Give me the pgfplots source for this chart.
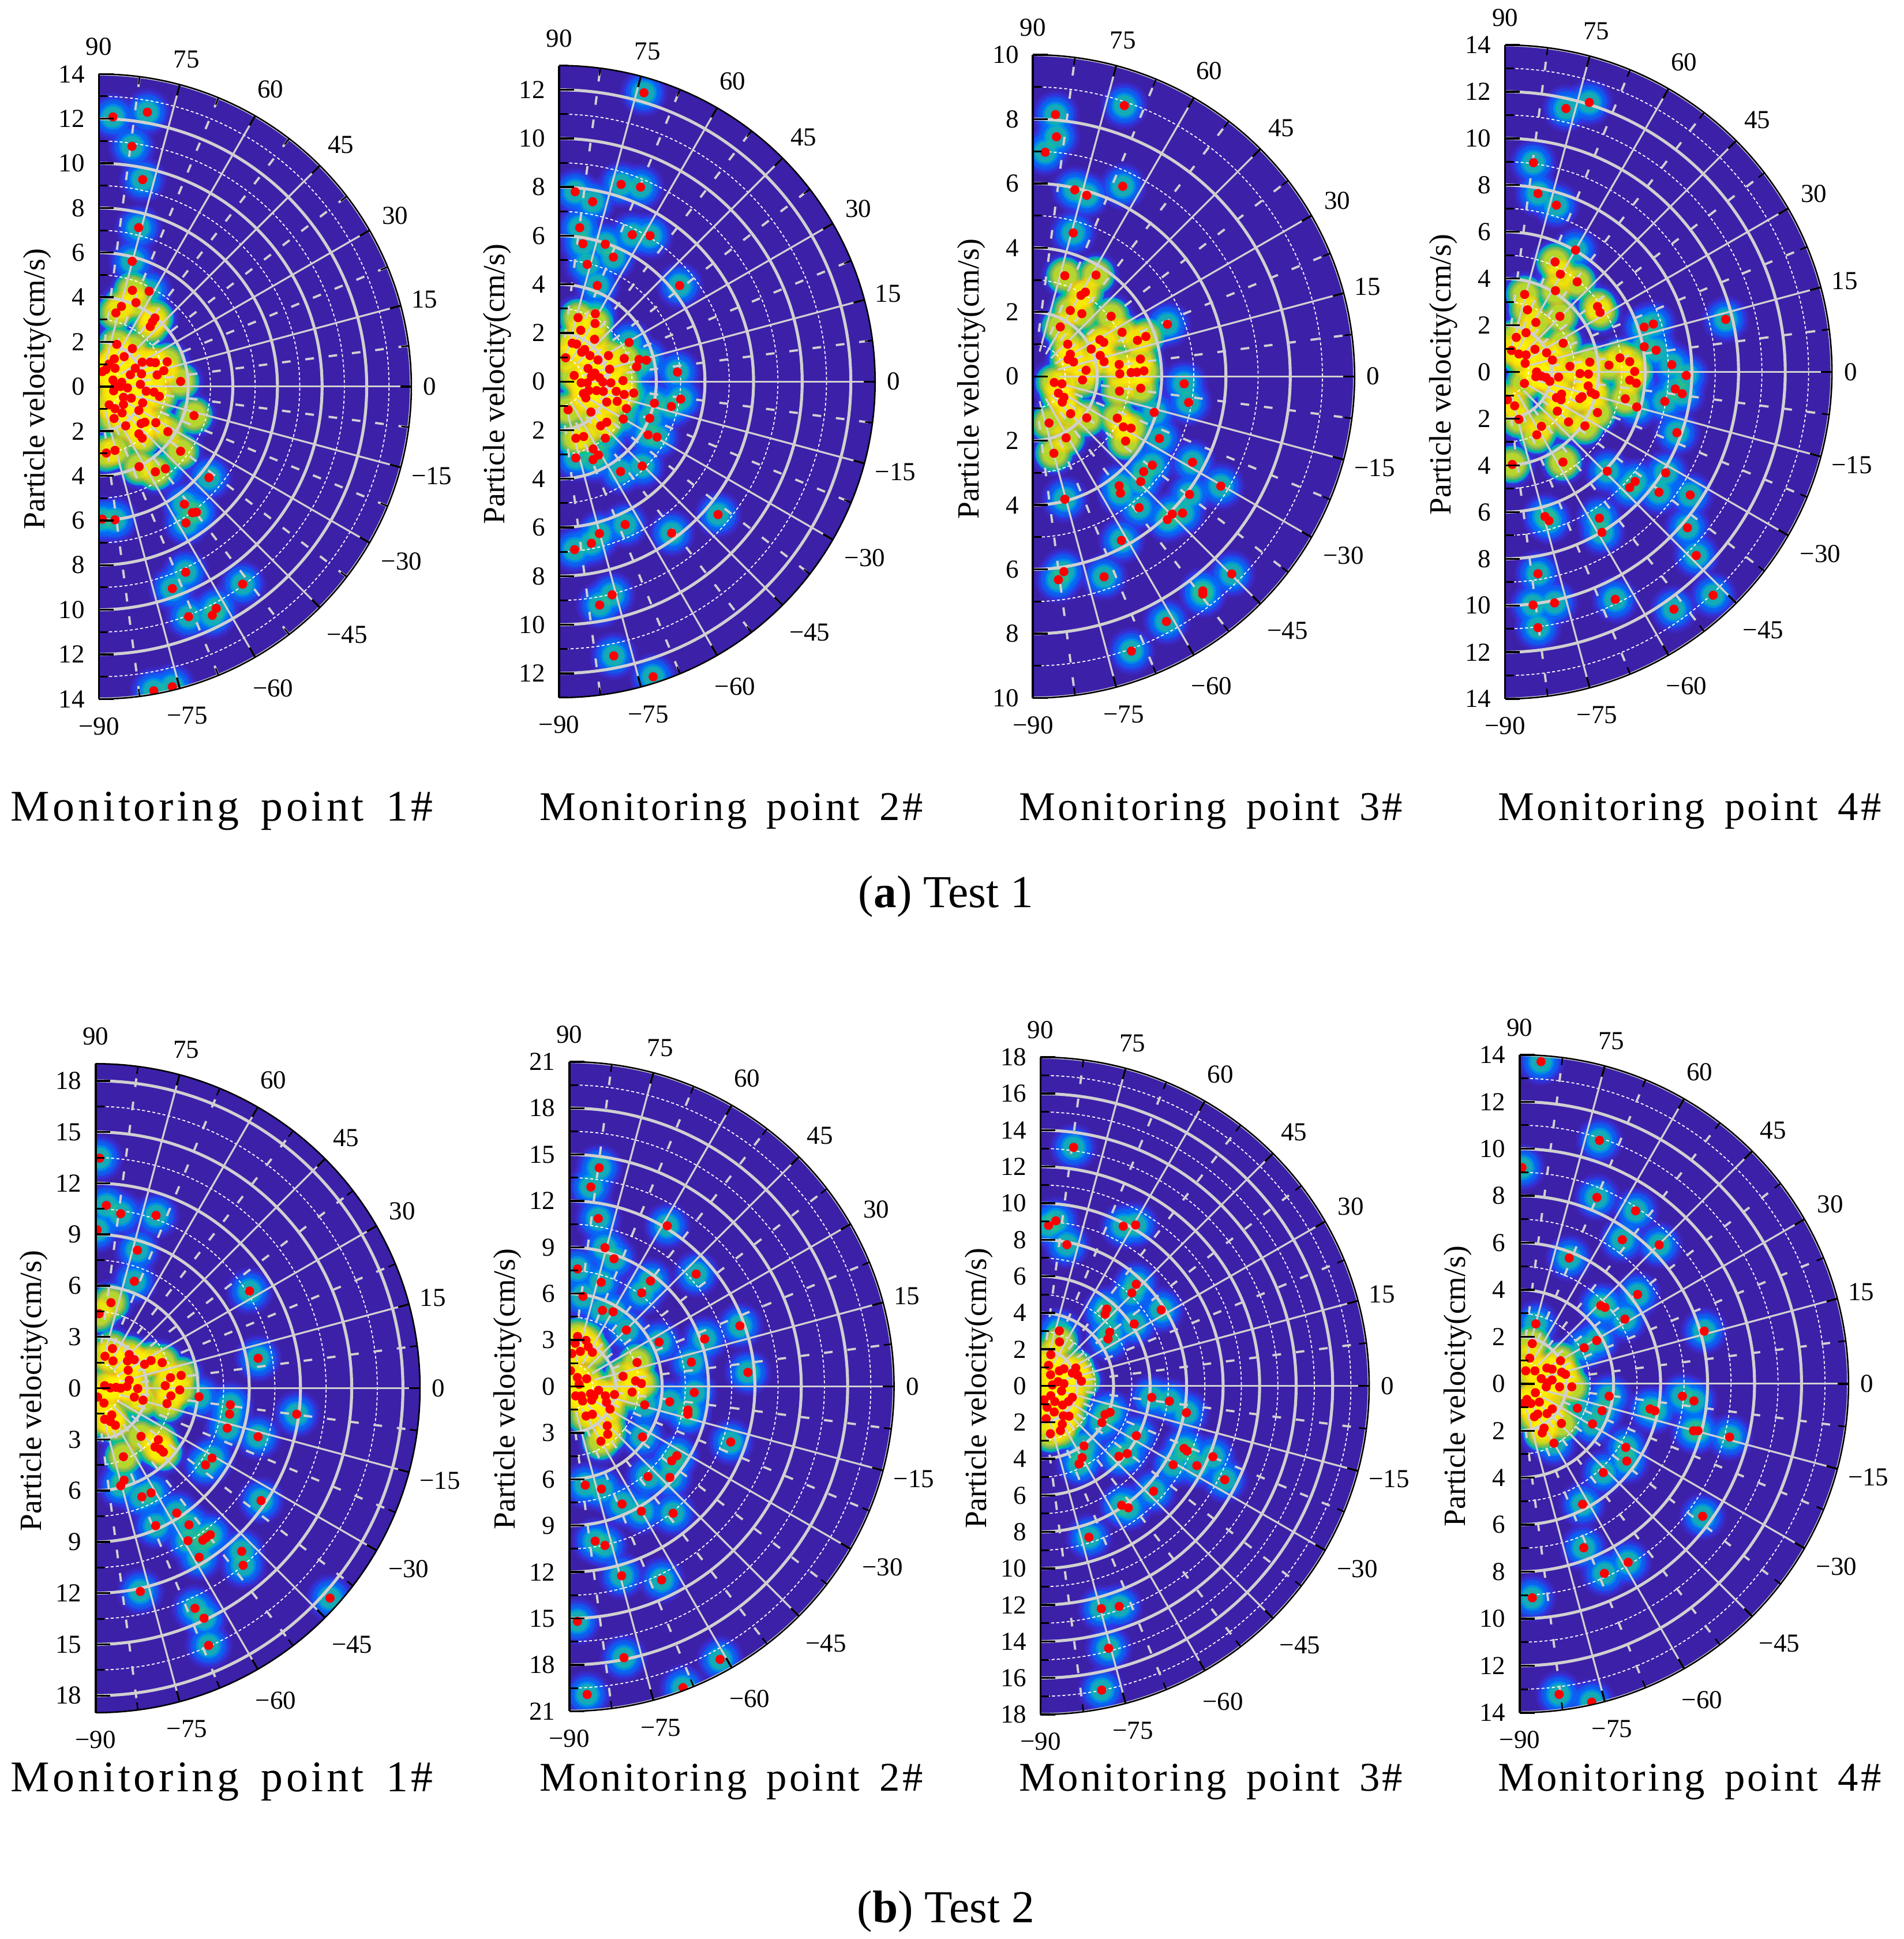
\documentclass[border=0pt]{standalone}
\usepackage{fontspec}
\setmainfont{Liberation Serif}
\newfontfamily\wideA[LetterSpace=7.3]{Liberation Serif}
\newfontfamily\wideB[LetterSpace=5.8]{Liberation Serif}
\usepackage{pgfplots}
\usepackage{pgfplotstable}
\pgfplotsset{compat=1.18}
\definecolor{bgc}{RGB}{60,32,168}
\definecolor{gridc}{RGB}{208,208,208}
\definecolor{h1}{RGB}{58,50,222}
\definecolor{h2}{RGB}{30,70,245}
\definecolor{h3}{RGB}{0,115,245}
\definecolor{h3b}{RGB}{0,160,235}
\definecolor{h4}{RGB}{0,190,200}
\definecolor{h5}{RGB}{10,205,110}
\definecolor{h6}{RGB}{255,170,30}
\definecolor{h7}{RGB}{255,225,0}
\definecolor{h8}{RGB}{255,255,0}
\pgfplotsset{
  halo/.style n args={3}{only marks,mark=*,mark size=#1pt,mark options={draw opacity=0,fill=#2,fill opacity=#3},forget plot},
}
\pgfplotstableread{
x y
0.63 12.08
2.17 12.29
1.48 10.76
1.96 9.27
1.78 7.12
1.49 5.61
1.5 4.31
2.25 4.27
1.66 3.76
1.01 3.59
0.76 3.3
2.51 3.07
2.4 2.9
2.3 2.69
0.8 1.89
1.5 1.7
0.69 1.24
1.13 1.34
0.46 1.01
0.72 0.82
0.15 0.67
0.31 0.76
1.94 1.09
1.63 0.82
2.3 1.09
2.53 1.07
3.06 1.11
2.91 0.71
2.61 0.52
1.91 0.57
1.41 0.53
3.66 0.23
0.63 0.29
1.02 0.19
1.86 0.1
0.72 0
0.66 -0.19
1.28 -0.06
0.97 0
2.12 -0.21
2.47 -0.25
2.71 -0.44
1.1 -0.48
1.45 -0.52
1.96 -0.73
1.1 -0.8
0.46 -0.82
0.72 -0.99
1.04 -1.18
1.79 -1.07
0.68 -1.43
1.2 -1.76
1.89 -1.66
2.06 -1.6
2.55 -1.62
3.09 -2.02
1.79 -2.12
1.94 -2.31
4.26 -1.3
0.33 -2.98
0.72 -2.86
3.66 -2.9
1.8 -3.59
2.53 -3.82
2.98 -3.68
4.93 -4.08
3.83 -5.27
4.19 -5.65
4.37 -5.63
3.9 -6.11
0.15 -5.94
0.72 -5.97
3.89 -8.32
3.29 -9.05
6.44 -8.85
5.26 -9.94
5.08 -10.25
4.02 -10.31
2.46 -13.63
3.29 -13.45
}\ta
\pgfplotstableread{
x y
3.49 11.88
2.55 8.11
3.35 8.0
0.66 7.81
1.38 7.4
0.85 6.33
0.98 5.67
1.9 5.65
3.01 6.04
3.74 6.0
2.23 5.12
1.16 4.82
1.57 3.95
4.96 3.95
0.78 2.63
1.49 2.79
1.48 2.39
0.89 2.11
1.46 1.74
0.54 1.58
0.72 1.54
2.88 1.61
1.05 1.32
0.93 1.21
1.27 1.07
0.27 0.98
1.6 0.89
2.03 1.07
2.68 0.95
3.29 0.91
3.59 0.88
3.19 0.61
1.19 0.54
2.08 0.51
4.87 0.39
0.62 0.25
1.47 0.35
1.33 0.21
1.66 0.16
0.91 -0.05
1.16 -0.05
1.8 -0.02
2.13 -0.05
2.63 0.04
1.22 -0.37
1.54 -0.37
1.82 -0.4
1.0 -0.49
2.35 -0.4
2.68 -0.53
3.07 -0.47
1.1 -0.67
1.96 -0.84
2.39 -0.81
2.77 -1.11
3.92 -0.89
5.0 -0.72
4.62 -1.02
0.37 -1.16
1.31 -1.25
2.64 -1.54
3.73 -1.51
1.96 -1.67
1.71 -1.82
3.66 -2.19
4.03 -2.28
0.69 -2.33
1.01 -2.26
1.9 -2.33
1.4 -2.77
1.62 -3.02
1.4 -3.21
0.69 -3.14
2.53 -3.7
3.42 -3.47
6.54 -5.47
2.72 -5.88
4.63 -6.23
1.66 -6.25
1.33 -6.65
0.64 -6.91
2.18 -8.77
1.67 -9.19
2.25 -11.28
3.87 -12.14
}\tb
\pgfplotstableread{
x y
2.84 8.42
0.7 8.14
0.73 7.45
0.38 6.97
1.3 5.8
1.67 5.63
2.79 5.91
1.25 4.46
0.99 3.13
1.96 3.15
1.63 2.62
1.49 2.52
1.16 2.05
1.52 1.95
2.43 1.87
4.18 1.62
0.85 1.54
2.77 1.37
3.51 1.24
3.25 1.12
2.08 1.14
2.2 1.06
1.08 1.0
1.81 0.85
1.16 0.69
2.09 0.65
1.09 0.53
1.26 0.45
2.21 0.46
3.34 0.54
2.68 0.37
1.65 0.19
2.7 0.08
3.05 0.12
3.23 0.13
3.45 0.17
1.54 -0.11
0.66 -0.19
0.9 -0.23
4.7 -0.23
2.69 -0.46
3.35 -0.37
0.79 -0.52
0.96 -0.65
0.91 -0.8
4.84 -0.81
3.77 -1.12
1.17 -1.16
1.67 -1.29
2.62 -1.3
0.5 -1.45
2.81 -1.57
3.05 -1.61
2.88 -2.01
1.03 -1.91
3.93 -1.93
0.65 -2.39
4.96 -2.67
3.71 -2.76
3.44 -2.96
3.35 -3.27
2.68 -3.4
2.72 -3.63
5.84 -3.41
4.87 -3.67
3.3 -4.08
0.99 -3.82
4.33 -4.28
4.18 -4.45
4.65 -4.25
2.75 -5.1
6.18 -6.14
0.96 -6.07
0.79 -6.32
2.21 -6.23
5.28 -6.67
5.28 -6.77
4.15 -7.62
3.06 -8.54
}\tc
\pgfplotstableread{
x y
3.61 11.54
2.61 11.28
1.22 8.96
1.41 7.64
2.2 7.14
3.02 5.22
2.14 4.71
2.37 4.19
3.09 3.86
2.16 3.48
0.84 3.32
0.96 2.66
3.96 2.8
4.07 2.55
9.45 2.25
2.35 2.38
1.32 2.12
5.96 1.92
6.35 2.05
0.9 1.68
0.48 1.48
2.49 1.23
5.96 1.08
6.47 0.93
1.28 0.97
0.28 0.92
0.59 0.77
0.9 0.73
1.78 0.82
2.03 0.51
4.92 0.6
5.34 0.44
0.86 0.37
3.63 0.42
2.78 0.24
4.45 0.29
7.14 0.31
5.55 0.02
7.76 -0.15
1.35 0
1.32 -0.2
1.56 -0.18
1.76 -0.24
2.29 -0.22
1.92 -0.4
3.21 -0.07
3.57 -0.09
0.83 -0.49
5.34 -0.35
5.62 -0.48
3.56 -0.6
3.69 -0.88
3.86 -0.97
7.29 -0.73
7.59 -0.93
2.42 -0.95
2.2 -1.1
2.4 -1.19
3.3 -1.06
3.2 -1.14
5.15 -1.15
6.84 -1.26
0.1 -1.19
0.41 -1.45
5.64 -1.5
2.24 -1.68
3.96 -1.74
0.59 -2.03
2.72 -2.14
1.56 -2.33
3.42 -2.31
1.36 -2.69
7.36 -2.6
0.31 -3.96
2.48 -3.86
4.38 -4.25
6.88 -4.32
5.57 -4.69
5.34 -4.95
6.59 -5.15
7.93 -5.27
4.04 -6.26
4.15 -6.87
1.71 -6.19
1.88 -6.37
7.81 -6.67
8.19 -7.86
1.41 -8.64
1.2 -9.98
2.12 -9.89
1.41 -10.95
4.72 -9.74
7.23 -10.16
8.91 -9.56
}\td
\pgfplotstableread{
x y
0.24 13.47
0.63 10.7
1.47 10.22
3.54 10.12
0.09 9.28
2.45 8.08
2.27 6.26
0.9 5.01
0.21 4.36
9.02 5.69
9.52 1.75
0.99 2.32
0.55 1.87
1.97 1.97
1.02 1.6
1.87 1.6
2.27 1.67
2.87 1.4
3.25 1.62
3.9 1.5
1.91 1.05
5.01 0.75
4.39 0.62
1.97 0.47
4.08 0.15
0.53 0.15
0.87 0.02
1.2 0.05
1.47 0
1.84 0.1
2.47 -0.02
4.93 -0.1
0.12 -0.52
2.27 -0.52
4.41 -0.45
2.78 -0.7
6.06 -0.5
0.49 -0.87
4.18 -0.9
7.89 -0.97
7.85 -1.52
11.78 -1.52
0.95 -1.57
0.53 -1.82
0.87 -1.95
1.16 -2.17
7.71 -2.34
9.52 -2.84
2.66 -2.82
3.68 -3.02
3.48 -3.44
3.78 -3.57
3.97 -3.74
1.63 -4.01
6.82 -4.09
6.44 -4.49
1.67 -5.39
1.47 -5.71
3.25 -6.13
2.71 -6.36
9.69 -6.58
4.75 -7.31
3.52 -8.05
5.47 -8.0
5.41 -8.93
6.72 -8.58
6.48 -8.75
6.28 -8.9
6.07 -9.9
8.56 -9.55
8.64 -10.37
2.62 -11.9
13.73 -12.29
5.82 -12.89
6.35 -13.47
6.62 -15.06
}\te
\pgfplotstableread{
x y
1.93 14.14
1.39 12.9
1.87 10.86
6.33 10.39
2.3 8.98
2.89 8.26
0.53 7.6
8.2 7.27
2.06 6.74
5.25 6.82
4.68 6.05
0.88 5.83
2.14 4.92
2.83 4.83
11.03 3.92
3.69 3.65
8.75 3.07
5.8 2.87
0.53 3.23
1.08 2.98
0.38 2.79
1.22 2.57
0.71 2.27
1.49 2.21
0.16 2.13
7.89 1.57
4.38 1.55
0.07 1.02
11.55 0.91
0.52 0.58
1.12 0.5
3.47 0.66
4.28 0.36
4.66 0.19
0.63 0.14
8.08 -0.39
1.89 -0.25
4.06 -0.36
2.92 -0.52
0.41 -0.61
0.78 -0.61
1.37 -0.47
1.59 -0.61
2.33 -0.61
0.86 -0.94
1.45 -0.88
2.4 -1.02
6.49 -0.99
4.87 -1.19
2.63 -1.46
7.67 -1.52
7.67 -1.8
1.08 -1.91
1.49 -1.8
2.45 -2.54
2.48 -3.09
4.73 -3.26
2.04 -3.54
10.44 -3.59
6.95 -4.48
6.62 -4.81
6.5 -5.88
5.09 -5.83
1.03 -6.38
2.08 -6.63
3.41 -7.6
4.66 -8.07
6.71 -8.2
1.67 -10.0
2.3 -10.28
3.38 -12.24
5.97 -12.51
0.52 -15.19
3.53 -17.54
9.75 -17.65
1.15 -19.92
7.35 -19.48
}\tf
\pgfplotstableread{
x y
1.81 13.06
0.84 9.04
0.44 8.79
4.53 8.74
5.21 8.81
1.44 7.73
5.24 5.56
5.0 5.09
6.61 4.16
3.63 4.21
3.54 3.93
5.13 3.39
3.79 2.94
3.7 2.57
1.03 3.01
1.04 2.41
0.56 1.71
0.44 1.12
1.28 0.93
1.03 0.82
1.93 0.98
1.74 0.7
0.55 0.61
2.03 0.58
2.24 0.26
0.96 0.23
1.28 0.12
0.65 0.05
1.15 -0.28
6.09 -0.63
7.06 -0.84
0.56 -0.54
0.19 -0.77
1.74 -0.63
0.78 -0.86
1.53 -0.86
1.21 -1.05
0.36 -1.17
0.75 -1.43
7.99 -1.47
3.81 -1.45
3.53 -1.57
1.25 -1.64
1.56 -1.66
0.31 -1.8
3.36 -2.01
1.19 -2.1
1.09 -2.45
0.54 -2.62
5.25 -2.73
2.38 -3.29
7.86 -3.43
8.03 -3.57
4.75 -3.71
4.29 -3.86
9.44 -3.88
2.28 -3.93
2.11 -4.28
7.26 -4.32
8.56 -4.37
10.09 -5.14
6.19 -5.77
4.44 -6.54
4.81 -6.68
2.65 -8.29
3.33 -12.2
4.31 -12.08
3.73 -14.37
3.35 -16.66
}\tg
\pgfplotstableread{
x y
0.91 13.71
3.4 10.36
0.1 9.2
3.29 7.93
4.94 7.36
4.37 6.13
5.94 5.91
2.11 5.35
5.02 3.8
3.45 3.33
3.63 3.25
4.48 2.75
0.69 2.55
7.86 2.24
0.54 1.71
3.28 1.84
2.75 1.53
0.43 1.09
1.74 0.98
0.26 0.55
0.65 0.55
1.16 0.67
1.38 0.62
1.79 0.49
1.95 0.4
0.92 0.22
1.38 0.16
1.18 0.04
1.13 -0.13
1.7 -0.13
2.22 -0.13
0.67 -0.38
3.81 -0.53
6.93 -0.53
7.42 -0.73
0.31 -0.67
0.15 -0.84
0.48 -0.84
0.84 -0.78
2.46 -1.04
1.39 -1.07
1.17 -1.27
3.51 -1.15
5.55 -1.07
5.76 -1.15
0.77 -1.29
0.63 -1.4
1.78 -1.69
3.1 -1.71
1.04 -1.89
0.96 -2.09
7.4 -2.0
7.59 -2.0
8.94 -2.27
1.46 -2.53
4.52 -2.71
4.56 -3.29
3.56 -3.78
2.68 -5.13
7.79 -5.64
2.73 -6.98
4.62 -7.6
3.61 -8.07
0.54 -9.11
1.68 -13.22
3.07 -13.55
}\th
% #1 centre x, #2 centre y, #3 radius (reference px), #4 rmax, #5 major step, #6 table, #7 radius of the dense core
\newcommand\panel[7]{%
\pgfmathsetmacro\uu{#3*0.5/#4}%
\pgfmathsetmacro\Rp{#3*0.5}%
\pgfmathsetmacro\Dp{#3}%
\pgfmathtruncatemacro\ma{2*#5}%
\pgfmathsetmacro\mna{#5/2}%
\pgfmathsetmacro\mnb{#5*1.5}%
\pgfmathsetmacro\rz{0.08*#4}%
\pgfmathsetmacro\rd{0.14*#4}%
\begin{scope}[shift={(#1*0.5pt,{(1568-#2)*0.5pt})},x=\uu pt,y=\uu pt]
\begin{scope}
\clip (0,#4) arc[start angle=90,end angle=-90,radius=#4] -- cycle;
\fill[bgc] (0,-#4) rectangle (#4,#4);
\begin{axis}[hide axis,scale only axis,width=\Rp pt,height=\Dp pt,xmin=0,xmax=#4,ymin=-#4,ymax=#4,at={(0pt,-\Rp pt)},anchor=south west,
  core/.style={restrict expr to domain={sqrt(x*x+y*y)}{0:#7}}]
\addplot[halo={9.8}{h1}{0.3}] table[x=x,y=y] {#6};
\addplot[halo={9}{h1}{0.4}] table[x=x,y=y] {#6};
\addplot[halo={8.2}{h2}{0.5}] table[x=x,y=y] {#6};
\addplot[halo={7.2}{h3}{0.5}] table[x=x,y=y] {#6};
\addplot[halo={6.2}{h3}{0.5}] table[x=x,y=y] {#6};
\addplot[halo={5.2}{h3b}{0.6}] table[x=x,y=y] {#6};
\addplot[halo={4.2}{h4}{0.5}] table[x=x,y=y] {#6};
\addplot[halo={4.6}{h5}{0.2}] table[x=x,y=y] {#6};
\addplot[halo={4}{h6}{0.08}] table[x=x,y=y] {#6};
\addplot[core,halo={7.6}{h4}{0.6}] table[x=x,y=y] {#6};
\addplot[core,halo={7}{h5}{0.6}] table[x=x,y=y] {#6};
\addplot[core,halo={6.2}{h6}{0.4}] table[x=x,y=y] {#6};
\addplot[core,halo={5.4}{h7}{0.3}] table[x=x,y=y] {#6};
\addplot[core,halo={4.6}{h8}{0.3}] table[x=x,y=y] {#6};
\end{axis}
\foreach \rr in {\mna,\mnb,...,#4}
  \draw[white,line width=0.4pt,dash pattern=on 1.2pt off 0.9pt] (0,\rr) arc[start angle=90,end angle=-90,radius=\rr];
\foreach \aa in {-82.5,-67.5,...,82.5}
  \draw[gridc,line width=0.9pt,dash pattern=on 3.5pt off 6pt] (\aa:\rd) -- (\aa:#4);
\foreach \aa in {-75,-60,...,75}
  \draw[gridc,line width=0.75pt] (\aa:\rz) -- (\aa:#4);
\foreach \rr in {#5,\ma,...,#4}
  \draw[gridc,line width=1.2pt] (0,\rr) arc[start angle=90,end angle=-90,radius=\rr];
\begin{axis}[hide axis,scale only axis,width=\Rp pt,height=\Dp pt,xmin=0,xmax=#4,ymin=-#4,ymax=#4,at={(0pt,-\Rp pt)},anchor=south west]
\addplot[only marks,mark=*,mark size=1.85pt,mark options={draw opacity=0,fill=red},forget plot] table[x=x,y=y] {#6};
\end{axis}
\end{scope}
\foreach \aa in {-75,-60,...,75}
  \draw[black,line width=0.8pt] (\aa:#4) -- ([shift={(\aa+180:4.5pt)}]\aa:#4);
\foreach \aa in {-82.5,-67.5,...,82.5}
  \draw[black,line width=0.6pt] (\aa:#4) -- ([shift={(\aa+180:3pt)}]\aa:#4);
\foreach \rr in {#5,\ma,...,#4} {
  \draw[black,line width=0.8pt] (0,\rr) -- ++(6pt,0);
  \draw[black,line width=0.8pt] (0,-\rr) -- ++(6pt,0);
  \node[left,inner sep=0pt,xshift=-5.5pt] at (0,\rr) {\rr};
  \node[left,inner sep=0pt,xshift=-5.5pt] at (0,-\rr) {\rr};
}
\foreach \rr in {\mna,\mnb,...,#4} {
  \draw[black,line width=0.7pt] (0,\rr) -- ++(3.5pt,0);
  \draw[black,line width=0.7pt] (0,-\rr) -- ++(3.5pt,0);
}
\draw[black,line width=0.8pt] (0,0) -- ++(6pt,0);
\node[left,inner sep=0pt,xshift=-5.5pt] at (0,0) {0};
\draw[black,line width=0.6pt] (0,#4) arc[start angle=90,end angle=-90,radius=#4];
\draw[black,line width=0.9pt] (0,#4) -- (0,-#4);
\foreach \aa/\dd/\lab in {90/11/90,75/10.5/75,60/12.5/60,45/12/45,30/12/30,15/10/15,0/7.5/0,-15/13/−15,-30/15/−30,-45/15.5/−45,-60/14.5/−60,-75/11.5/−75,-90/11/−90}
  \node[inner sep=0pt] at ([shift={(\aa:\dd pt)}]\aa:#4) {\lab};
\node[rotate=90,inner sep=0pt,font=\fontsize{12.5}{14}\selectfont] at ([xshift=-25pt,yshift=-1pt]0,0) {Particle velocity(cm/s)};
\end{scope}%
}
\newcommand\mon[3]{\node[inner sep=0pt] at (#1*0.5pt,{(1568-#2)*0.5pt}) {#3};}
\begin{document}
\begin{tikzpicture}[font=\fontsize{10.5}{12}\selectfont]
\path[use as bounding box] (0,0) rectangle (770pt,784pt);
\panel{80.0}{312.6}{252.7}{14}{2}{\ta}{4.7}
\panel{452.2}{308.6}{255.6}{13}{2}{\tb}{2.9}
\panel{835.5}{304.4}{260.1}{10}{2}{\tc}{3.8}
\panel{1217.3}{300.8}{264.4}{14}{2}{\td}{5.6}
\panel{77.3}{1122.6}{262.4}{19}{3}{\te}{5.6}
\panel{460.5}{1121.2}{262.6}{21}{3}{\tf}{4.8}
\panel{841.6}{1120.7}{265.8}{18}{2}{\tg}{3.1}
\panel{1229.1}{1119}{266}{14}{2}{\th}{2.6}
\mon{179.5}{656}{\fontsize{17.7}{20}\wideA Monitoring\hspace{9pt}point\hspace{9pt}1\#}
\mon{591.5}{656}{\fontsize{16.5}{20}\wideB Monitoring\hspace{8pt}point\hspace{8pt}2\#}
\mon{979.5}{656}{\fontsize{16.5}{20}\wideB Monitoring\hspace{8pt}point\hspace{8pt}3\#}
\mon{1366.5}{656}{\fontsize{16.5}{20}\wideB Monitoring\hspace{8pt}point\hspace{8pt}4\#}
\mon{179.5}{1441}{\fontsize{17.7}{20}\wideA Monitoring\hspace{9pt}point\hspace{9pt}1\#}
\mon{591.5}{1441}{\fontsize{16.5}{20}\wideB Monitoring\hspace{8pt}point\hspace{8pt}2\#}
\mon{979.5}{1441}{\fontsize{16.5}{20}\wideB Monitoring\hspace{8pt}point\hspace{8pt}3\#}
\mon{1366.5}{1441}{\fontsize{16.5}{20}\wideB Monitoring\hspace{8pt}point\hspace{8pt}4\#}
\mon{765}{725}{\fontsize{18.5}{22}\selectfont(\textbf{a}) Test 1}
\mon{765}{1546}{\fontsize{18.5}{22}\selectfont(\textbf{b}) Test 2}
\end{tikzpicture}
\end{document}
